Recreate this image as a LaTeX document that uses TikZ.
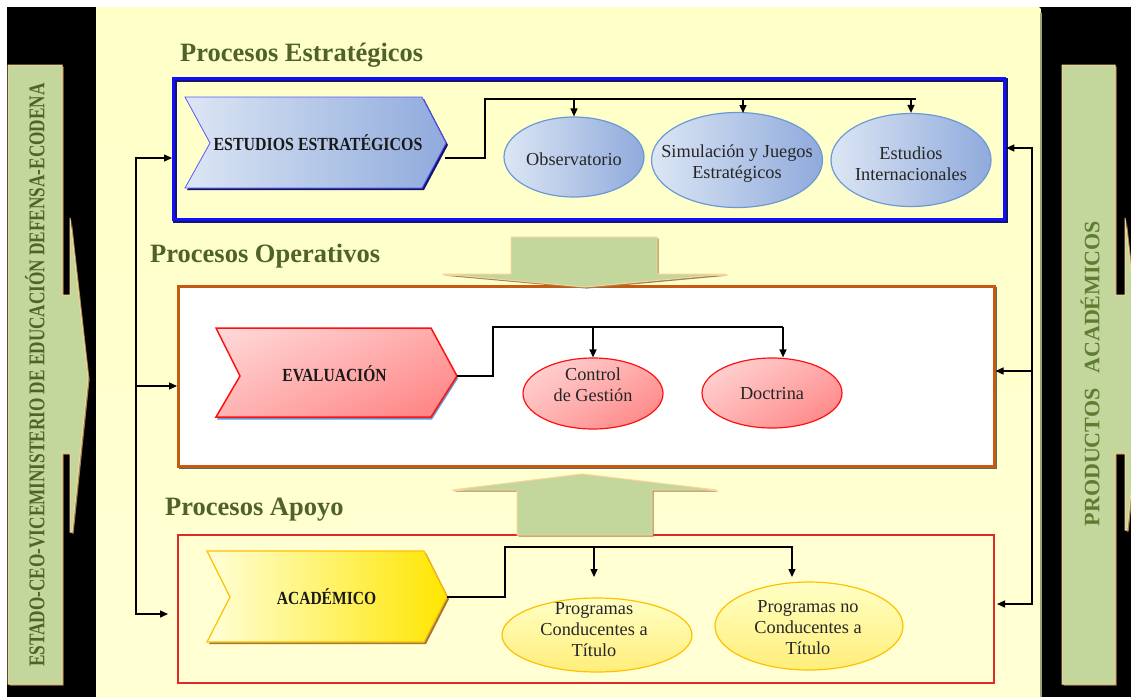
\documentclass[tikz,border=0pt]{standalone}
\usepackage{fontspec}
\usepackage{graphicx}
\setmainfont{Liberation Serif}
\usetikzlibrary{arrows.meta,shapes.geometric,shadings}
\definecolor{olivetxt}{HTML}{4F6228}
\definecolor{olivetxt2}{HTML}{5F7D32}
\definecolor{bargreen}{HTML}{C3D69B}
\definecolor{barline}{HTML}{F8D49A}
\definecolor{barshadow}{HTML}{9A8450}
\definecolor{panelY}{HTML}{FFFFC8}
\definecolor{panelW}{HTML}{FFFFFC}
\definecolor{panelB}{HTML}{FFFFD4}
\definecolor{panelEdge}{HTML}{A0A080}
\definecolor{bluelight}{HTML}{DCE6F4}
\definecolor{bluedark}{HTML}{8FAADC}
\definecolor{blueedge}{HTML}{6A9AD6}
\definecolor{navy}{HTML}{14146E}
\definecolor{boxblue}{HTML}{1010FF}
\definecolor{pinkUL}{HTML}{FFDADA}
\definecolor{pinkUR}{HTML}{FFA8A8}
\definecolor{pinkLL}{HTML}{FFB4B4}
\definecolor{pinkLR}{HTML}{FF7E7E}
\definecolor{redline}{HTML}{FF1010}
\definecolor{evalshadow}{HTML}{5B9BD5}
\definecolor{yellight}{HTML}{FFFFD8}
\definecolor{yeldark}{HTML}{FFE600}
\definecolor{yelellT}{HTML}{FFFFC4}
\definecolor{yelellB}{HTML}{FFEE7A}
\definecolor{yeledge}{HTML}{FFC000}
\definecolor{acadshadow}{HTML}{A0783C}
\definecolor{orangebox}{HTML}{C65A11}
\definecolor{redbox}{HTML}{E02828}
\begin{document}
\begin{tikzpicture}[x=1pt,y=-1pt,
  conn/.style={line width=1.4pt, draw=black},
  tipend/.style={-{Triangle[length=8pt,width=7pt]}},
  tipboth/.style={{Triangle[length=8pt,width=7pt]}-{Triangle[length=8pt,width=7pt]}},
  ttl/.style={font=\fontsize{26.5}{30}\selectfont\bfseries, text=olivetxt, anchor=base west, inner sep=0pt},
  chevtxt/.style={font=\fontsize{18.5}{20}\selectfont\bfseries, text=black!90, inner sep=0pt},
  ellshape/.style={ellipse, inner sep=0pt, line width=1.2pt},
  elltxt/.style={font=\fontsize{18.3}{21}\selectfont, align=center, inner sep=0pt, text=black!85},
  bartxt/.style={rotate=90, inner sep=0pt},
  greenshape/.style={fill=bargreen, draw=barline, line width=1pt},
  greenshadow/.style={fill=barshadow, shift={(1.6,1.6)}},
  pinkfill/.style={upper left=pinkUL, upper right=pinkUR, lower left=pinkLL, lower right=pinkLR},
]
\useasboundingbox (0,0) rectangle (1131,697);
\fill[white] (0,0) rectangle (1131,697);
\fill[black] (7,7) rectangle (1131,697);

% panel
\shade[top color=panelY, middle color=panelW, bottom color=panelB]
  (96,705) -- (96,7) -- (1035,7) .. controls (1041,7) .. (1041,13) -- (1041,705) -- cycle;
\draw[panelEdge, line width=2pt] (1041,13) -- (1041,697);

% left bar
\fill[greenshadow] (8,65) -- (62,65) -- (62,295) -- (70,295) -- (70,218) -- (88,378) -- (72,532) -- (70,532) -- (70,453) -- (62,453) -- (62,684) -- (8,684) -- cycle;
\filldraw[greenshape] (8,65) -- (62,65) -- (62,295) -- (70,295) -- (70,218) -- (88,378) -- (72,532) -- (70,532) -- (70,453) -- (62,453) -- (62,684) -- (8,684) -- cycle;
\node[bartxt, text=olivetxt, font=\fontsize{22.5}{24}\selectfont\bfseries] (lefttxt) at (35,375)
  {\scalebox{0.765}[1]{ESTADO-CEO-VICEMINISTERIO DE EDUCACIÓN DEFENSA-ECODENA}};

% right bar
\fill[greenshadow] (1062,65) -- (1115,65) -- (1115,295) -- (1125,295) -- (1125,218) -- (1143,378) -- (1127,530) -- (1125,530) -- (1125,453) -- (1115,453) -- (1115,684) -- (1062,684) -- cycle;
\filldraw[greenshape] (1062,65) -- (1115,65) -- (1115,295) -- (1125,295) -- (1125,218) -- (1143,378) -- (1127,530) -- (1125,530) -- (1125,453) -- (1115,453) -- (1115,684) -- (1062,684) -- cycle;
\node[bartxt, text=olivetxt2, font=\fontsize{22}{25}\selectfont\bfseries] (righttxt) at (1090,373.5)
  {PRODUCTOS\hspace{15pt}ACADÉMICOS};

% process boxes
\node[draw=navy, line width=3.5pt, minimum width=831pt, minimum height=141pt, anchor=north west, inner sep=0pt] (stratsh) at (173.2,78.2) {};
\node[draw=boxblue, line width=3.3pt, minimum width=831pt, minimum height=141pt, anchor=north west, inner sep=0pt] (strat) at (172,77) {};
\node[draw=black!60, line width=2.5pt, minimum width=816pt, minimum height=180pt, anchor=north west, inner sep=0pt] (opersh) at (178.5,286.5) {};
\node[draw=orangebox, fill=white, line width=2.5pt, minimum width=816pt, minimum height=180pt, anchor=north west, inner sep=0pt] (oper) at (177,285) {};
\node[draw=redbox, line width=1.8pt, minimum width=816pt, minimum height=148pt, anchor=north west, inner sep=0pt] (apoyo) at (177,534) {};

% green arrows
\fill[greenshadow] (511,237) -- (657,237) -- (657,274) -- (727,274) -- (585,287) -- (442,274) -- (511,274) -- cycle;
\filldraw[greenshape] (511,237) -- (657,237) -- (657,274) -- (727,274) -- (585,287) -- (442,274) -- (511,274) -- cycle;
\fill[greenshadow] (582,474) -- (717,490) -- (652,490) -- (652,535) -- (517,535) -- (517,490) -- (452,490) -- cycle;
\filldraw[greenshape] (582,474) -- (717,490) -- (652,490) -- (652,535) -- (517,535) -- (517,490) -- (452,490) -- cycle;

% titles
\node[ttl] (t1) at (180,61) {Procesos Estratégicos};
\node[ttl] (t2) at (150,262) {Procesos Operativos};
\node[ttl] (t3) at (165,515) {Procesos Apoyo};

% chevrons
\fill[navy, shift={(2,2)}] (185,97) -- (422,97) -- (446,143) -- (422,188) -- (185,188) -- (210,143) -- cycle;
\shadedraw[left color=bluelight, right color=bluedark, draw=boxblue!70!white, line width=0.8pt]
  (185,97) -- (422,97) -- (446,143) -- (422,188) -- (185,188) -- (210,143) -- cycle;
\node[chevtxt] (es) at (318,143) {\scalebox{0.86}[1]{ESTUDIOS ESTRATÉGICOS}};

\fill[evalshadow, shift={(1,2.5)}] (216,328) -- (431,328) -- (457,376) -- (431,417) -- (216,417) -- (240,376) -- cycle;
\shadedraw[pinkfill, draw=redline, line width=1.5pt]
  (216,328) -- (431,328) -- (457,376) -- (431,417) -- (216,417) -- (240,376) -- cycle;
\node[chevtxt] (ev) at (334.5,374) {\scalebox{0.84}[1]{EVALUACIÓN}};

\fill[acadshadow, shift={(2,2)}] (207,551) -- (424,551) -- (447,597) -- (424,642) -- (207,642) -- (230,597) -- cycle;
\shadedraw[left color=yellight, right color=yeldark, draw=yeledge, line width=1.2pt]
  (207,551) -- (424,551) -- (447,597) -- (424,642) -- (207,642) -- (230,597) -- cycle;
\node[chevtxt] (ac) at (326.5,597) {\scalebox{0.84}[1]{ACADÉMICO}};

% ellipses: strategic
\node[ellshape, left color=bluelight, right color=bluedark, draw=blueedge, minimum width=140pt, minimum height=80pt] (obs) at (574,157) {};
\node[elltxt] (obst) at (574,159) {Observatorio};
\node[ellshape, left color=bluelight, right color=bluedark, draw=blueedge, minimum width=171pt, minimum height=95pt] (sim) at (737,160) {};
\node[elltxt] (simt) at (737,164) {Simulación y Juegos\\Estratégicos};
\node[ellshape, left color=bluelight, right color=bluedark, draw=blueedge, minimum width=160pt, minimum height=93pt] (est) at (911,160) {};
\node[elltxt] (estt) at (911,164) {Estudios\\Internacionales};

% ellipses: operative
\node[ellshape, pinkfill, draw=redline, minimum width=140pt, minimum height=71pt] (ctrl) at (593,393.5) {};
\node[elltxt] (ctrlt) at (593,384.5) {Control\\de Gestión};
\node[ellshape, pinkfill, draw=redline, minimum width=140pt, minimum height=70pt] (doc) at (772,393) {};
\node[elltxt] (doct) at (772,394) {Doctrina};

% ellipses: support
\node[ellshape, top color=yelellT, bottom color=yelellB, draw=yeledge, minimum width=190pt, minimum height=74pt] (pg1) at (597,635) {};
\node[elltxt] (pg1t) at (594,630) {Programas\\Conducentes a\\Título};
\node[ellshape, top color=yelellT, bottom color=yelellB, draw=yeledge, minimum width=188pt, minimum height=88pt] (pg2) at (809,626) {};
\node[elltxt] (pg2t) at (808,628) {Programas no\\Conducentes a\\Título};

% connectors: strategic
\coordinate (esout) at (445,158);
\coordinate (esbend) at (485,158);
\coordinate (esbar) at (485,99);
\coordinate (esend) at (916,99);
\coordinate (simin) at (743,113);
\draw[conn] (esout) -- (esbend) -- (esbar) -- (esend);
\draw[conn, tipend] (obs.north |- esbar) -- (obs.north);
\draw[conn, tipend] (simin |- esbar) -- (simin);
\draw[conn, tipend] (est.north |- esbar) -- (est.north);

% connectors: operative
\coordinate (evout) at (457,376);
\coordinate (evbend) at (493,376);
\coordinate (evbar) at (493,327);
\coordinate (evend) at (783,327);
\draw[conn] (evout) -- (evbend) -- (evbar) -- (evend);
\draw[conn, tipend] (ctrl.north |- evbar) -- (ctrl.north);
\draw[conn, tipend] (evend) -- (doc.north -| evend);

% connectors: support
\coordinate (acout) at (447,597);
\coordinate (acbend) at (505,597);
\coordinate (acbar) at (505,547);
\coordinate (acend) at (793,547);
\coordinate (pg1in) at (594,577);
\coordinate (pg2in) at (792,577);
\draw[conn] (acout) -- (acbend) -- (acbar) -- (acend);
\draw[conn, tipend] (pg1in |- acbar) -- (pg1in);
\draw[conn, tipend] (pg2in |- acbar) -- (pg2in);

% left feed
\coordinate (lA) at (136,158);
\coordinate (lB) at (136,386);
\coordinate (lC) at (136,614);
\coordinate (lCend) at (168,614);
\draw[conn, tipboth] (lCend) -- (lC) -- (lA) -- (lA -| strat.west);
\draw[conn, tipend] (lB) -- (lB -| oper.west);

% right feed
\coordinate (rA) at (1032,148);
\coordinate (rB) at (1032,371);
\coordinate (rC) at (1032,604);
\coordinate (rCend) at (997,604);
\draw[conn, tipboth] (rA -| strat.east) -- (rA) -- (rC) -- (rCend);
\draw[conn, tipend] (rB) -- (rB -| oper.east);
\end{tikzpicture}
\end{document}
